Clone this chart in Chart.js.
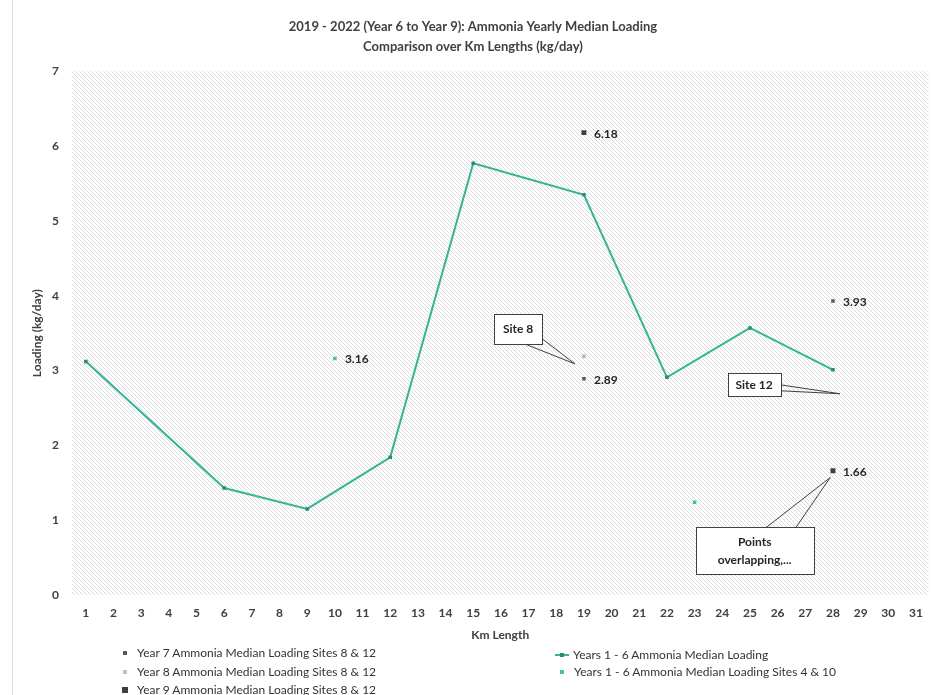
<!DOCTYPE html>
<html>
<head>
<meta charset="utf-8">
<script src="https://cdn.jsdelivr.net/npm/chart.js@4.4.1/dist/chart.umd.min.js"></script>
<style>
  body { margin: 0; background: #fff; font-family: Lato, "Open Sans", sans-serif; }
  .wrap { position: relative; width: 934px; height: 695px; overflow: hidden; background: #fff; }
  .edge { position: absolute; left: 12px; top: 0; width: 1px; height: 695px; background: #dcdcdc; }
  canvas { position: absolute; left: 0; top: 0; }
  .legend { position: absolute; font: 12px Lato, sans-serif; color: #333; white-space: nowrap; }
  .legend .row { position: absolute; height: 18px; line-height: 18px; }
  .legend .mk { position: absolute; top: 50%; transform: translate(-50%, -50%); }
</style>
</head>
<body>
<div class="wrap">
  <div class="edge"></div>
  <canvas id="chart" width="934" height="695"></canvas>
  <div class="legend" id="legend"></div>
</div>
<script>
// ---- data ----
const kmTicks = [1, 2, 3, 4, 5, 6, 7, 8, 9, 10, 11, 12, 13, 14, 15, 16, 17, 18, 19, 20, 21, 22, 23, 24, 25, 26, 27, 28, 29, 30, 31];
const loadingTicks = [0, 1, 2, 3, 4, 5, 6, 7];

// Years 1-6 median loading (the line)
const medianKm = [1, 6, 9, 12, 15, 19, 22, 25, 28];
const medianLoading = [3.12, 1.43, 1.15, 1.84, 5.77, 5.35, 2.91, 3.57, 3.01];

// Years 1-6 sites 4 & 10
const sites410Km = [10, 23];
const sites410Loading = [3.16, 1.24];

// Site 8 (km 19) and Site 12 (km 28)
const siteKm = [19, 28];
const year7Loading = [2.89, 3.93];
const year8Loading = [3.19, 1.66];
const year9Loading = [6.18, 1.66];

const toPoints = (xs, ys) => xs.map((x, i) => ({ x: x, y: ys[i] }));

// callout boxes: centre in data units, size / wedge base in px offsets from centre
const callouts = [
  { text: ["Site 8"], at: [16.62, 3.56], w: 48, h: 30, base: [[6, 15], [24, 10]], tip: [18.67, 3.09] },
  { text: ["Site 12"], at: [25.15, 2.81], w: 53, h: 23, base: [[26, 0], [26, 6]], tip: [28.25, 2.69] },
  { text: ["Points", "overlapping,..."], at: [25.17, 0.59], w: 118, h: 47, base: [[11, -23], [41, -23]], tip: [27.9, 1.57] }
];

const TEAL = "#35b596";
const TEAL_DARK = "#2a8a74";

// diagonal hatch tile for the plot area
function makeHatchCanvas() {
  const c = document.createElement("canvas");
  c.width = 4; c.height = 4;
  const g = c.getContext("2d");
  g.fillStyle = "#ffffff";
  g.fillRect(0, 0, 4, 4);
  g.fillStyle = "#dcdcdc";
  for (let i = 0; i < 4; i++) g.fillRect(i, i, 1, 1);
  return c;
}

const hatchPlugin = {
  id: "hatch",
  beforeDraw(chart) {
    const { ctx, chartArea: a } = chart;
    ctx.save();
    ctx.fillStyle = ctx.createPattern(makeHatchCanvas(), "repeat");
    ctx.fillRect(a.left, a.top, a.right - a.left, a.bottom - a.top);
    ctx.restore();
  }
};

// value labels to the right of some points
const valueLabels = {
  id: "valueLabels",
  afterDatasetsDraw(chart) {
    const ctx = chart.ctx;
    ctx.save();
    ctx.font = "bold 12px Lato, sans-serif";
    ctx.fillStyle = "#262626";
    ctx.textBaseline = "middle";
    chart.data.datasets.forEach((ds, di) => {
      if (!ds.labelIdx) return;
      const meta = chart.getDatasetMeta(di);
      ds.labelIdx.forEach(i => {
        const el = meta.data[i];
        ctx.fillText(ds.data[i].y.toFixed(2), el.x + 10, el.y + 1);
      });
    });
    ctx.restore();
  }
};

// callout boxes with wedge pointers
const calloutPlugin = {
  id: "callouts",
  afterDatasetsDraw(chart) {
    const { ctx, scales } = chart;
    ctx.save();
    callouts.forEach(c => {
      const cx = scales.x.getPixelForValue(c.at[0]);
      const cy = scales.y.getPixelForValue(c.at[1]);
      const tx = scales.x.getPixelForValue(c.tip[0]);
      const ty = scales.y.getPixelForValue(c.tip[1]);
      ctx.strokeStyle = "#404040";
      ctx.lineWidth = 1;
      ctx.beginPath();
      ctx.moveTo(cx + c.base[0][0], cy + c.base[0][1]);
      ctx.lineTo(tx, ty);
      ctx.lineTo(cx + c.base[1][0], cy + c.base[1][1]);
      ctx.stroke();
      const x0 = Math.round(cx - c.w / 2) + 0.5, y0 = Math.round(cy - c.h / 2) + 0.5;
      ctx.fillStyle = "#ffffff";
      ctx.fillRect(x0, y0, c.w, c.h);
      ctx.strokeRect(x0, y0, c.w, c.h);
      ctx.fillStyle = "#262626";
      ctx.font = "bold 12px Lato, sans-serif";
      ctx.textAlign = "center";
      ctx.textBaseline = "middle";
      const lh = 18;
      c.text.forEach((t, i) => {
        ctx.fillText(t, cx, cy + (i - (c.text.length - 1) / 2) * lh);
      });
    });
    ctx.restore();
  }
};

const chart = new Chart(document.getElementById("chart"), {
  type: "line",
  data: {
    datasets: [
      {
        label: "Year 7 Ammonia Median Loading Sites 8 & 12",
        data: toPoints(siteKm, year7Loading),
        showLine: false,
        pointStyle: "rect",
        pointRadius: 2.5,
        backgroundColor: "#595959",
        borderColor: "#595959",
        borderWidth: 0,
        labelIdx: [0, 1],
        legendMk: { w: 4, h: 4, c: "#595959" }
      },
      {
        label: "Year 8 Ammonia Median Loading Sites 8 & 12",
        data: toPoints(siteKm, year8Loading),
        showLine: false,
        order: 1,
        pointStyle: "rect",
        pointRadius: 2.5,
        backgroundColor: "#b4b4b4",
        borderColor: "#b4b4b4",
        borderWidth: 0,
        legendMk: { w: 4, h: 4, c: "#c0c0c0" }
      },
      {
        label: "Year 9 Ammonia Median Loading Sites 8 & 12",
        data: toPoints(siteKm, year9Loading),
        showLine: false,
        pointStyle: "rect",
        pointRadius: 3.5,
        backgroundColor: "#404040",
        borderColor: "#404040",
        borderWidth: 0,
        labelIdx: [0, 1],
        legendMk: { w: 6, h: 6, c: "#404040" }
      },
      {
        label: "Years 1 - 6 Ammonia Median Loading",
        data: toPoints(medianKm, medianLoading),
        borderColor: TEAL,
        borderWidth: 2,
        pointStyle: "rect",
        pointRadius: 2.5,
        backgroundColor: TEAL_DARK,
        pointBorderWidth: 0,
        tension: 0,
        legendMk: { line: true }
      },
      {
        label: "Years 1 - 6 Ammonia Median Loading Sites 4 & 10",
        data: toPoints(sites410Km, sites410Loading),
        showLine: false,
        pointStyle: "rect",
        pointRadius: 2.5,
        backgroundColor: "#3fc2a2",
        borderColor: "#3fc2a2",
        borderWidth: 0,
        labelIdx: [0],
        legendMk: { w: 4, h: 4, c: "#3fc2a2" }
      }
    ]
  },
  options: {
    responsive: false,
    animation: false,
    devicePixelRatio: 1,
    layout: { padding: { left: 12, right: 0, top: 0, bottom: 50 } },
    plugins: {
      legend: { display: false },
      tooltip: { enabled: false },
      title: {
        display: true,
        text: ["2019 - 2022 (Year 6 to Year 9): Ammonia Yearly Median Loading", "Comparison over Km Lengths (kg/day)"],
        color: "#404040",
        font: { family: "Lato", size: 13, weight: "bold", lineHeight: 1.55 },
        padding: { top: 17, bottom: 14 }
      }
    },
    scales: {
      x: {
        type: "linear",
        min: 0.5,
        max: 31.45,
        afterBuildTicks: s => { s.ticks = kmTicks.map(v => ({ value: v })); },
        afterFit: s => { s.height = 50; },
        grid: { display: false, drawTicks: false },
        border: { display: false },
        ticks: { padding: 11, color: "#404040", font: { family: "Lato", size: 12, weight: "bold" }, maxRotation: 0, autoSkip: false },
        title: { display: true, text: "Km Length", color: "#404040", font: { family: "Lato", size: 12, weight: "bold" }, padding: { top: 0, bottom: 3 } }
      },
      y: {
        min: 0,
        max: 7,
        afterBuildTicks: s => { s.ticks = loadingTicks.map(v => ({ value: v })); },
        afterFit: s => { s.width = 60; },
        grid: { display: false, drawTicks: false },
        border: { display: false },
        ticks: { padding: 13, color: "#404040", font: { family: "Lato", size: 12, weight: "bold" } },
        title: { display: true, text: "Loading (kg/day)", color: "#404040", font: { family: "Lato", size: 12, weight: "bold" }, padding: { top: 18, bottom: 0 } }
      }
    }
  },
  plugins: [hatchPlugin, valueLabels, calloutPlugin]
});

// legend laid out in two columns like the original
const legendPos = [
  { left: 125, top: 653 },
  { left: 125, top: 672 },
  { left: 125, top: 690 },
  { left: 562, top: 655 },
  { left: 562, top: 672 }
];
const legendEl = document.getElementById("legend");
chart.data.datasets.forEach((ds, i) => {
  const row = document.createElement("div");
  row.className = "row";
  row.style.left = legendPos[i].left + "px";
  row.style.top = (legendPos[i].top - 9) + "px";
  const mk = document.createElement("span");
  mk.className = "mk";
  const m = ds.legendMk;
  if (m.line) {
    mk.style.width = "14px"; mk.style.height = "2px"; mk.style.background = TEAL;
    const dot = document.createElement("span");
    dot.style.cssText = "position:absolute;left:5px;top:-1px;width:4px;height:4px;background:" + TEAL_DARK;
    mk.appendChild(dot);
  } else {
    mk.style.width = m.w + "px"; mk.style.height = m.h + "px"; mk.style.background = m.c;
  }
  row.appendChild(mk);
  const txt = document.createElement("span");
  txt.style.cssText = "position:absolute;left:" + (m.line ? 11 : 12) + "px;top:0;";
  txt.textContent = ds.label;
  row.appendChild(txt);
  legendEl.appendChild(row);
});
</script>
</body>
</html>
